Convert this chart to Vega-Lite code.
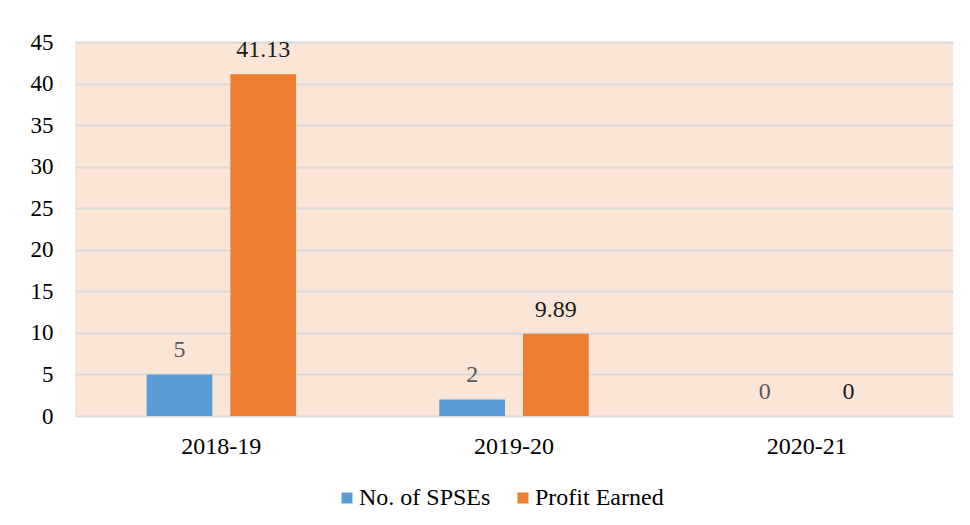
{
  "$schema": "https://vega.github.io/schema/vega-lite/v6.json",
  "autosize": "none",
  "width": 878,
  "height": 374,
  "padding": {"left": 75, "top": 42, "right": 17, "bottom": 109},
  "background": "#ffffff",
  "config": {
    "view": {"fill": "#FBE5D6", "stroke": null},
    "font": "Liberation Serif",
    "axis": {"labelFont": "Liberation Serif", "labelColor": "#000000", "title": null},
    "legend": {"labelFont": "Liberation Serif"}
  },
  "data": {
    "values": [
      {"year": "2018-19", "series": "No. of SPSEs", "value": 5},
      {"year": "2018-19", "series": "Profit Earned", "value": 41.13},
      {"year": "2019-20", "series": "No. of SPSEs", "value": 2},
      {"year": "2019-20", "series": "Profit Earned", "value": 9.89},
      {"year": "2020-21", "series": "No. of SPSEs", "value": 0},
      {"year": "2020-21", "series": "Profit Earned", "value": 0}
    ]
  },
  "encoding": {
    "x": {
      "field": "year",
      "type": "nominal",
      "sort": ["2018-19", "2019-20", "2020-21"],
      "scale": {"paddingInner": 0, "paddingOuter": 0},
      "axis": {
        "title": null,
        "labelAngle": 0,
        "labelFontSize": 24,
        "labelPadding": 18,
        "ticks": false,
        "tickSize": 0,
        "domain": false,
        "grid": false
      }
    },
    "xOffset": {
      "field": "series",
      "type": "nominal",
      "sort": ["No. of SPSEs", "Profit Earned"],
      "scale": {"paddingInner": 0.215, "paddingOuter": 0.856}
    },
    "y": {
      "field": "value",
      "type": "quantitative",
      "scale": {"domain": [0, 45], "nice": false, "zero": true},
      "axis": {
        "title": null,
        "values": [0, 5, 10, 15, 20, 25, 30, 35, 40, 45],
        "labelFontSize": 23,
        "labelPadding": 22,
        "ticks": false,
        "tickSize": 0,
        "domain": false,
        "grid": true,
        "gridColor": "#D9D9D9",
        "gridWidth": 2
      }
    }
  },
  "layer": [
    {
      "mark": {"type": "bar"},
      "encoding": {
        "color": {
          "field": "series",
          "type": "nominal",
          "sort": ["No. of SPSEs", "Profit Earned"],
          "scale": {"domain": ["No. of SPSEs", "Profit Earned"], "range": ["#5B9BD5", "#ED7D31"]},
          "legend": {
            "title": null,
            "orient": "none",
            "direction": "horizontal",
            "legendX": 260,
            "legendY": 444,
            "padding": 0,
            "symbolType": "square",
            "symbolSize": 121,
            "symbolStrokeWidth": 0,
            "labelFontSize": 24,
            "labelColor": "#000000",
            "labelOffset": 0,
            "columnPadding": 20
          }
        }
      }
    },
    {
      "mark": {"type": "text", "baseline": "alphabetic", "align": "center", "dy": -17, "fontSize": 24, "font": "Liberation Serif"},
      "encoding": {
        "text": {"field": "value", "type": "quantitative"},
        "color": {
          "condition": {"test": "datum.series === 'No. of SPSEs'", "value": "#595959"},
          "value": "#1a1a1a"
        }
      }
    }
  ]
}
